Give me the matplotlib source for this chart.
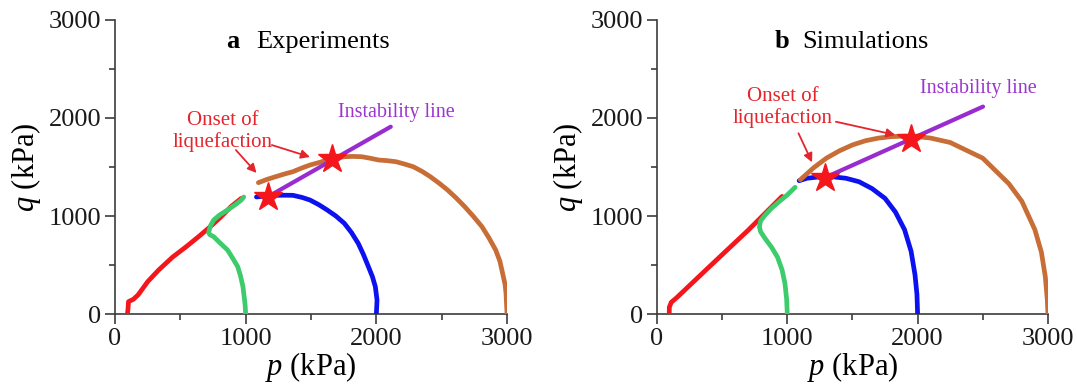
import matplotlib
matplotlib.use("Agg")
import matplotlib.pyplot as plt
from matplotlib.ticker import MultipleLocator

plt.rcParams['font.family'] = ['Liberation Serif', 'DejaVu Serif']
plt.rcParams['mathtext.fontset'] = 'custom'
plt.rcParams['mathtext.it'] = 'Liberation Serif:italic'
plt.rcParams['mathtext.rm'] = 'Liberation Serif'

# ---- panel a: experiments (p, q in kPa) ----
exp_red_p = [95, 100, 103, 140, 176, 250, 334, 440, 545, 640, 729, 810, 887, 966]
exp_red_q = [0, 60, 126, 150, 194, 330, 449, 580, 687, 790, 891, 990, 1095, 1180]
exp_green_p = [1000, 995, 979, 960, 939, 900, 861, 800, 755, 725, 716, 730, 755,
               800, 861, 920, 966, 985]
exp_green_q = [0, 100, 279, 390, 483, 570, 653, 730, 789, 810, 830, 900, 959,
               1010, 1061, 1115, 1163, 1194]
exp_blue_p = [1082, 1150, 1229, 1300, 1361, 1430, 1492, 1560, 1624, 1690, 1755,
              1810, 1861, 1900, 1939, 1970, 1992, 2005, 2000]
exp_blue_q = [1194, 1205, 1211, 1212, 1211, 1190, 1163, 1115, 1061, 1000, 925,
              830, 721, 610, 483, 380, 279, 143, 0]
exp_brown_p = [1097, 1160, 1229, 1300, 1361, 1430, 1492, 1560, 1624, 1690, 1755,
               1820, 1887, 1950, 2019, 2080, 2150, 2215, 2282, 2350, 2413, 2480,
               2545, 2610, 2676, 2740, 2808, 2860, 2913, 2945, 2966, 2985, 2992,
               3000]
exp_brown_q = [1340, 1372, 1401, 1430, 1452, 1490, 1520, 1545, 1571, 1590, 1605,
               1608, 1605, 1590, 1571, 1565, 1554, 1530, 1503, 1455, 1401, 1335,
               1265, 1185, 1095, 1000, 891, 780, 653, 540, 415, 300, 211, 0]
exp_instab_p = [1171, 2110]
exp_instab_q = [1197, 1911]
exp_star_p = [1171, 1663]
exp_star_q = [1197, 1578]

# ---- panel b: simulations ----
sim_red_p = [94, 95, 110, 150, 400, 700, 960]
sim_red_q = [0, 70, 120, 165, 480, 855, 1200]
sim_green_p = [1000, 995, 982, 960, 925, 880, 830, 795, 786, 795, 830, 880, 940,
               1000, 1060]
sim_green_q = [0, 150, 313, 450, 580, 680, 770, 840, 890, 950, 1010, 1080, 1150,
               1215, 1293]
sim_blue_p = [1091, 1150, 1250, 1350, 1450, 1550, 1650, 1750, 1830, 1900, 1950,
              1980, 1995, 2000]
sim_blue_q = [1360, 1385, 1400, 1400, 1385, 1350, 1280, 1180, 1040, 860, 640,
              400, 200, 0]
sim_brown_p = [1100, 1200, 1300, 1400, 1500, 1600, 1700, 1800, 1900, 2000, 2100,
               2250, 2500, 2700, 2800, 2900, 2950, 2980, 2995, 3000]
sim_brown_q = [1370, 1490, 1590, 1665, 1725, 1768, 1795, 1810, 1815, 1810, 1795,
               1750, 1590, 1330, 1150, 860, 630, 380, 150, 0]
sim_instab_p = [1288, 2502]
sim_instab_q = [1391, 2116]
sim_star_p = [1288, 1953]
sim_star_q = [1391, 1782]

ticks = [0, 1000, 2000, 3000]

RED = '#f5161b'
GREEN = '#3dcc6b'
BLUE = '#0b12ef'
BROWN = '#c86d36'
PURPLE = '#9a2ccf'
TXT_RED = '#e5252c'
TXT_PURPLE = '#9b35d0'

fig = plt.figure(figsize=(10.77, 3.91), dpi=100)
ax_a = fig.add_axes([0.1068, 0.1969, 0.364, 0.752])
ax_b = fig.add_axes([0.6100, 0.1969, 0.363, 0.752])


def draw(ax, red, green, blue, brown, instab, stars):
    lw = 3.4
    ax.plot(*red, color=RED, lw=lw, solid_capstyle='round', solid_joinstyle='round', zorder=3)
    ax.plot(*green, color=GREEN, lw=lw, solid_capstyle='round', solid_joinstyle='round', zorder=4)
    ax.plot(*blue, color=BLUE, lw=lw, solid_capstyle='round', solid_joinstyle='round', zorder=3)
    ax.plot(*brown, color=BROWN, lw=lw, solid_capstyle='round', solid_joinstyle='round', zorder=3)
    ax.plot(*instab, color=PURPLE, lw=3.0, solid_capstyle='round', zorder=5)
    ax.plot(*stars, ls='none', marker='*', ms=21, color=RED, mec=RED, zorder=6)

    ax.set_xlim(0, 3000)
    ax.set_ylim(0, 3000)
    ax.set_xticks(ticks)
    ax.set_yticks(ticks)
    ax.xaxis.set_minor_locator(MultipleLocator(500))
    ax.yaxis.set_minor_locator(MultipleLocator(500))
    for s in ['top', 'right']:
        ax.spines[s].set_visible(False)
    for s in ['left', 'bottom']:
        ax.spines[s].set_color('#3c3c3c')
        ax.spines[s].set_linewidth(1.2)
    ax.tick_params(which='major', direction='out', length=7, width=1.2,
                   color='#3c3c3c', labelsize=19, pad=3)
    ax.tick_params(which='minor', direction='out', length=4, width=1.2,
                   color='#3c3c3c')
    for lab in ax.get_xticklabels() + ax.get_yticklabels():
        lab.set_color('#1a1a1a')
    ax.set_xlabel(r'$p$ (kPa)', fontsize=22, labelpad=0)
    ax.set_ylabel(r'$q$ (kPa)', fontsize=22, labelpad=4)
    ax.patch.set_alpha(0)


draw(ax_a, (exp_red_p, exp_red_q), (exp_green_p, exp_green_q),
     (exp_blue_p, exp_blue_q), (exp_brown_p, exp_brown_q),
     (exp_instab_p, exp_instab_q), (exp_star_p, exp_star_q))
draw(ax_b, (sim_red_p, sim_red_q), (sim_green_p, sim_green_q),
     (sim_blue_p, sim_blue_q), (sim_brown_p, sim_brown_q),
     (sim_instab_p, sim_instab_q), (sim_star_p, sim_star_q))

# titles
ax_a.text(900, 2776, 'a', fontsize=19, fontweight='bold', ha='center', va='center')
ax_a.text(1084, 2776, 'Experiments', fontsize=19, ha='left', va='center')
ax_b.text(961, 2776, 'b', fontsize=19, fontweight='bold', ha='center', va='center')
ax_b.text(1112, 2776, 'Simulations', fontsize=19, ha='left', va='center')

# labels
ax_a.text(2150, 2061, 'Instability line', fontsize=14.5, color=TXT_PURPLE,
          ha='center', va='center')
ax_b.text(2463, 2303, 'Instability line', fontsize=14.5, color=TXT_PURPLE,
          ha='center', va='center')
ax_a.text(822, 1862, 'Onset of\nliquefaction', fontsize=15, color=TXT_RED,
          ha='center', va='center', linespacing=1.1)
ax_b.text(968, 2107, 'Onset of\nliquefaction', fontsize=15, color=TXT_RED,
          ha='center', va='center', linespacing=1.1)

arrow = dict(arrowstyle='-|>', color=TXT_RED, lw=1.3, mutation_scale=13,
             shrinkA=0, shrinkB=0)
ax_a.annotate('', xy=(1492, 1602), xytext=(1200, 1724), arrowprops=arrow)
ax_a.annotate('', xy=(1083, 1439), xytext=(925, 1673), arrowprops=arrow)
ax_b.annotate('', xy=(1829, 1827), xytext=(1373, 1962), arrowprops=arrow)
ax_b.annotate('', xy=(1190, 1548), xytext=(1086, 1844), arrowprops=arrow)

fig.savefig('out.png', dpi=100)
